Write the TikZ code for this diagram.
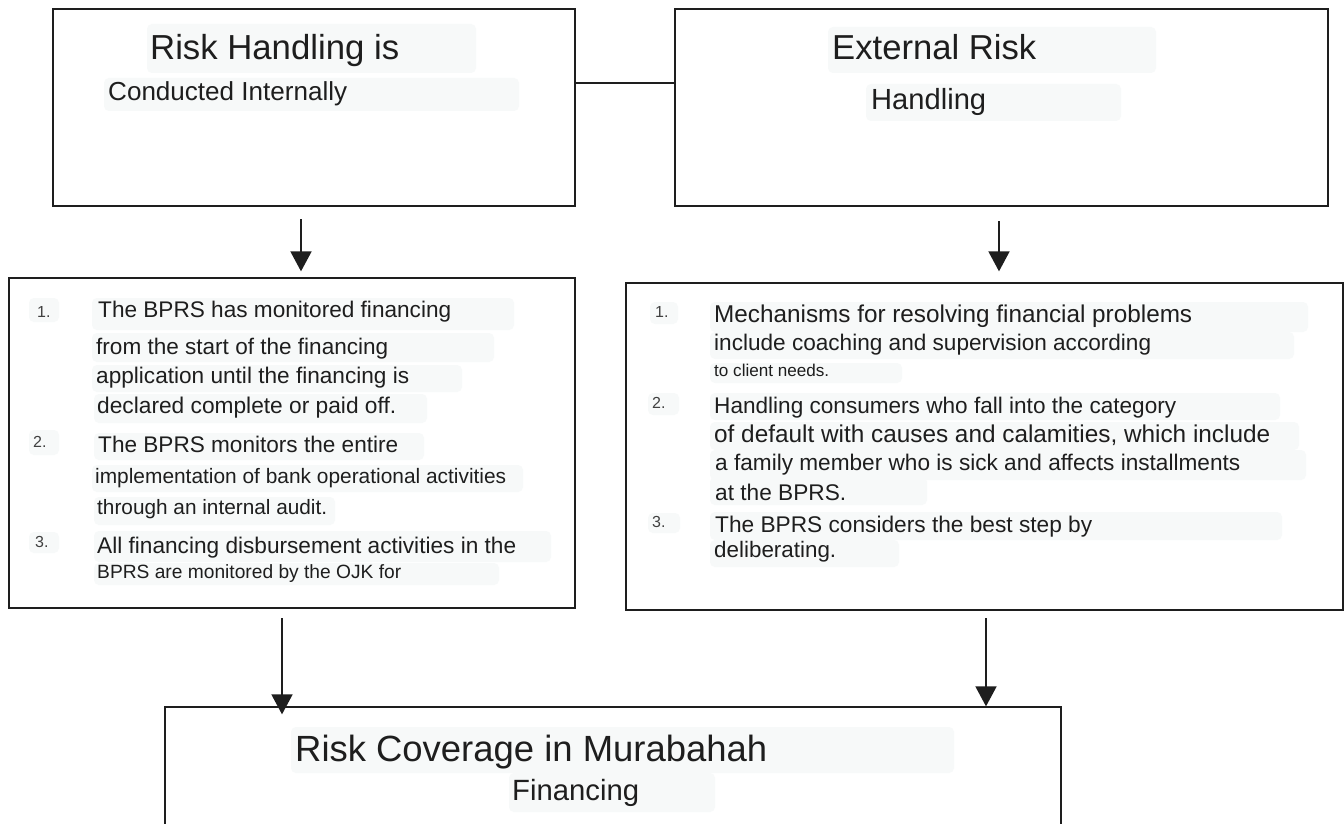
\documentclass[tikz,border=0pt]{standalone}
\usepackage{fontspec}
\setmainfont{Liberation Sans}
\usetikzlibrary{arrows.meta}
\definecolor{ink}{HTML}{1E1E1E}
\definecolor{hlc}{HTML}{F7F9F9}
\newcommand\fitw[2]{\resizebox{#1pt}{!}{#2}}
\begin{document}
\begin{tikzpicture}[x=1pt,y=-1pt,
  box/.style={draw=ink, line width=1.3pt, rectangle, inner sep=0pt},
  txt/.style={anchor=base west, inner sep=0pt, text=ink, font=\fontsize{20}{24}\selectfont},
  num/.style={anchor=base west, inner sep=0pt, text=ink!85, font=\fontsize{16}{19}\selectfont},
  arr/.style={draw=ink, line width=1.8pt, -{Triangle[width=21pt,length=20pt]}},
  hl/.style={fill=hlc, rounded corners=5pt}]
\useasboundingbox (0,0) rectangle (1344,824);
\clip (0,0) rectangle (1344,824);
\fill[white] (0,0) rectangle (1344,824);

% faint highlight backgrounds
\fill[hl] (147,24) rectangle (476,73);
\fill[hl] (104,78) rectangle (519,111);
\fill[hl] (828,27) rectangle (1156,73);
\fill[hl] (866,84) rectangle (1121,121);
\fill[hl] (29,298) rectangle (59,322);
\fill[hl] (92,298) rectangle (514,330);
\fill[hl] (92,333) rectangle (494,362);
\fill[hl] (92,365) rectangle (462,392);
\fill[hl] (94,394) rectangle (427,423);
\fill[hl] (29,430) rectangle (59,455);
\fill[hl] (94,433) rectangle (424,460);
\fill[hl] (92,465) rectangle (523,492);
\fill[hl] (94,497) rectangle (335,525);
\fill[hl] (29,532) rectangle (59,553);
\fill[hl] (94,531) rectangle (551,562);
\fill[hl] (94,563) rectangle (499,585);
\fill[hl] (650,302) rectangle (678,324);
\fill[hl] (710,302) rectangle (1308,332);
\fill[hl] (710,332) rectangle (1294,359);
\fill[hl] (710,363) rectangle (902,383);
\fill[hl] (648,393) rectangle (679,415);
\fill[hl] (710,393) rectangle (1280,420);
\fill[hl] (710,422) rectangle (1299,450);
\fill[hl] (710,450) rectangle (1306,480);
\fill[hl] (710,477) rectangle (927,505);
\fill[hl] (648,513) rectangle (680,533);
\fill[hl] (710,512) rectangle (1282,540);
\fill[hl] (710,540) rectangle (899,567);
\fill[hl] (291,727) rectangle (954,773);
\fill[hl] (509,773) rectangle (715,812);

% boxes
\node[box, minimum width=522pt, minimum height=197pt] (A) at (314,107.5) {};
\node[box, minimum width=653pt, minimum height=197pt] (B) at (1001.5,107.5) {};
\node[box, minimum width=566pt, minimum height=330pt] (C) at (292,443) {};
\node[box, minimum width=717pt, minimum height=327pt] (D) at (984.5,446.5) {};
\node[box, minimum width=896pt, minimum height=160pt] (E) at (613,787) {};

% connectors
\coordinate (m) at (0,83);
\draw[ink, line width=1.3pt] (A.east |- m) -- (B.west |- m);
\coordinate (s1) at (301,219);
\coordinate (s2) at (999,221);
\coordinate (s3) at (282,618);
\coordinate (s4) at (986,618);
\draw[arr, shorten >=6pt] (s1) -- (s1 |- C.north);
\draw[arr, shorten >=11pt] (s2) -- (s2 |- D.north);
\draw[arr, shorten >=-8pt] (s3) -- (s3 |- E.north);
\draw[arr] (s4) -- (s4 |- E.north);

% box A
\node[txt] (a1) at (150,60) {\fitw{249}{Risk Handling is}};
\node[txt] (a2) at (108,101) {\fitw{239}{Conducted Internally}};
% box B
\node[txt] (b1) at (832,60) {\fitw{204}{External Risk}};
\node[txt] (b2) at (871,110) {\fitw{115}{Handling}};
% box C
\node[num] (cn1) at (37,317) {1.};
\node[txt] (c1) at (98,317) {\fitw{353}{The BPRS has monitored financing}};
\node[txt] (c2) at (96,354) {\fitw{292}{from the start of the financing}};
\node[txt] (c3) at (96,383) {\fitw{313}{application until the financing is}};
\node[txt] (c4) at (97,413) {\fitw{299}{declared complete or paid off.}};
\node[num] (cn2) at (33,447) {2.};
\node[txt] (c5) at (98,452) {\fitw{300}{The BPRS monitors the entire}};
\node[txt] (c6) at (95,483) {\fitw{411}{implementation of bank operational activities}};
\node[txt] (c7) at (97,514) {\fitw{230}{through an internal audit.}};
\node[num] (cn3) at (35,547) {3.};
\node[txt] (c8) at (97,553) {\fitw{419}{All financing disbursement activities in the}};
\node[txt] (c9) at (97,578) {\fitw{304}{BPRS are monitored by the OJK for}};
% box D
\node[num] (dn1) at (655,317) {1.};
\node[txt] (d1) at (714,322) {\fitw{478}{Mechanisms for resolving financial problems}};
\node[txt] (d2) at (714,350) {\fitw{437}{include coaching and supervision according}};
\node[txt] (d3) at (714,376) {\fitw{115}{to client needs.}};
\node[num] (dn2) at (652,408) {2.};
\node[txt] (d4) at (714,413) {\fitw{462}{Handling consumers who fall into the category}};
\node[txt] (d5) at (714,442) {\fitw{556}{of default with causes and calamities, which include}};
\node[txt] (d6) at (715,470) {\fitw{525}{a family member who is sick and affects installments}};
\node[txt] (d7) at (715,500) {\fitw{131}{at the BPRS.}};
\node[num] (dn3) at (652,527) {3.};
\node[txt] (d8) at (715,532) {\fitw{377}{The BPRS considers the best step by}};
\node[txt] (d9) at (714,557) {\fitw{122}{deliberating.}};
% box E
\node[txt] (e1) at (295,761) {\fitw{472}{Risk Coverage in Murabahah}};
\node[txt] (e2) at (512,800) {\fitw{127}{Financing}};
\end{tikzpicture}
\end{document}
